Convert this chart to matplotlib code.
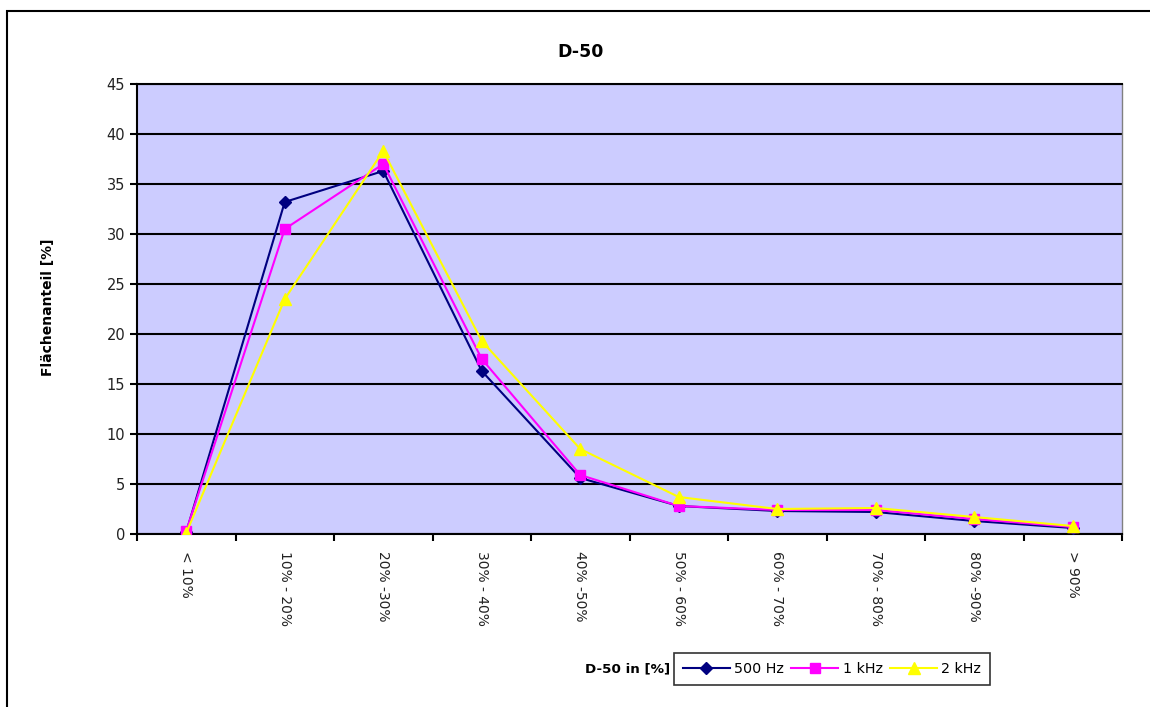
import matplotlib.pyplot as plt
import matplotlib.patches as patches
import numpy as np

plt.rcParams['font.family'] = ['DejaVu Sans']

# D-50 classes and area shares per frequency band
klassen = ["< 10%", "10% - 20%", "20% -30%", "30% - 40%", "40% -50%",
           "50% - 60%", "60% - 70%", "70% - 80%", "80% -90%", "> 90%"]
hz500 = [0.2, 33.2, 36.3, 16.3, 5.6, 2.8, 2.3, 2.2, 1.3, 0.6]
khz1 = [0.3, 30.5, 37.0, 17.5, 5.9, 2.8, 2.4, 2.4, 1.5, 0.7]
khz2 = [0.1, 23.5, 38.3, 19.3, 8.5, 3.7, 2.5, 2.6, 1.7, 0.8]

fig = plt.figure(figsize=(11.5, 7.07), dpi=100)
ax = fig.add_axes([137/1150, 1-534/707, (1122-137)/1150, (534-84)/707])

# outer chart frame
fig.patches.append(patches.Rectangle((7/1150, -0.1), 1.2, 1.1 - 11/707,
                                     transform=fig.transFigure, fill=False,
                                     edgecolor='black', linewidth=1.5, zorder=0))

x = np.arange(len(klassen))
ax.set_facecolor('#CCCCFF')
ax.plot(x, hz500, color='#000080', marker='D', markersize=6.5, linewidth=1.5, label='500 Hz', zorder=3)
ax.plot(x, khz1, color='#FF00FF', marker='s', markersize=7, linewidth=1.5, label='1 kHz', zorder=4)
ax.plot(x, khz2, color='#FFFF00', marker='^', markersize=9, linewidth=1.5, label='2 kHz', zorder=5)

ax.set_xlim(-0.5, len(klassen) - 0.5)
ax.set_ylim(0, 45)
ax.set_yticks(np.arange(0, 46, 5))
ax.yaxis.grid(True, color='black', linewidth=1.5)
ax.set_axisbelow(True)

# ticks between categories, labels at category centres
ax.set_xticks(np.arange(-0.5, len(klassen), 1))
ax.set_xticklabels([])
ax.set_xticks(x, minor=True)
ax.set_xticklabels(klassen, minor=True, rotation=270, fontsize=10, color='#222222')
ax.tick_params(axis='x', which='minor', length=0, pad=12)
ax.tick_params(axis='x', which='major', length=5, width=1.5, direction='out')
ax.tick_params(axis='y', length=5, width=1.5, labelsize=10.5, colors='black', labelcolor='#222222')

for s in ax.spines.values():
    s.set_linewidth(1.5)
    s.set_color('black')
ax.spines['right'].set_color('#808080')
ax.spines['right'].set_linewidth(1)

fig.text(581/1150, 1-52/707, 'D-50', ha='center', va='center', fontsize=12.5, fontweight='bold')
fig.text(48/1150, 1-307/707, 'Flächenanteil [%]', ha='center', va='center', rotation=90,
         fontsize=10, fontweight='bold')

leg = ax.legend(loc='center', bbox_to_anchor=(832/1150, 1-669/707), bbox_transform=fig.transFigure,
                ncol=3, frameon=True, fancybox=False, edgecolor='black', fontsize=10.3,
                handlelength=3.3, columnspacing=0.5, handletextpad=0.3, borderpad=0.6)
leg.get_frame().set_linewidth(1.2)
fig.text(670/1150, 1-669/707, 'D-50 in [%]', ha='right', va='center', fontsize=9.7, fontweight='bold')

fig.savefig('out.png', dpi=100)
